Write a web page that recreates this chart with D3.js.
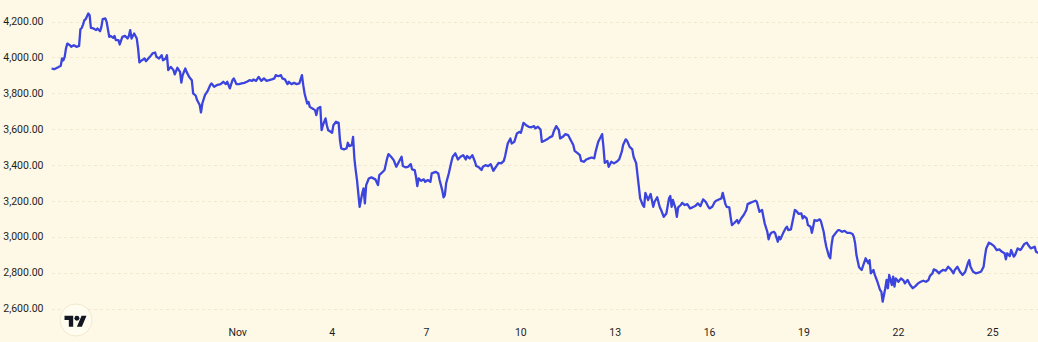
<!DOCTYPE html>
<html>
<head>
<meta charset="utf-8">
<script src="https://cdn.jsdelivr.net/npm/d3@7/dist/d3.min.js"></script>
<style>
  html, body { margin: 0; padding: 0; background: #fef8e7; }
  svg { display: block; }
  .tick-label { font-family: Roboto, "Liberation Sans", sans-serif; font-size: 10.5px; fill: #1e1e1e; }
</style>
</head>
<body>
<svg id="chart"></svg>
<script>
// price line, hours counted from Oct 26 00:00 (UTC)
const startDate = Date.UTC(2024, 9, 26);

const hours = [
  2,4,7,9,10,11,12,13,14,16,17,19,21,23,24,25,26,27,28,30,31,32,34,36,37,39,40,41,43,44,
  46,47,49,50,51,53,54,56,58,60,61,62,63,65,67,68,69,70,73,74,77,79,81,82,84,86,87,89,90,91,
  93,95,96,98,100,101,102,104,105,107,109,110,112,113,115,116,117,119,121,123,124,126,128,
  131,133,135,136,138,140,141,143,145,147,149,151,153,155,156,158,160,162,164,166,168,170,172,173,175,177,
  178,180,182,183,185,187,189,191,193,194,195,197,198,199,201,203,204,205,207,208,209,211,212,213,215,216,217,219,221,222,
  223,225,227,228,229,231,232,233,234,235,236,237,239,240,241,242,244,246,249,251,252,
  254,256,258,259,261,263,265,267,269,270,272,274,276,277,279,280,281,282,284,286,287,289,291,292,295,297,298,300,301,302,
  303,305,307,308,310,312,314,316,318,319,321,323,325,326,328,330,331,333,335,337,339,341,343,345,347,348,350,352,353,355,
  357,359,360,362,364,366,368,370,371,373,375,
  376,378,380,382,384,385,387,389,390,392,394,396,398,400,401,403,405,406,408,410,412,414,416,417,419,421,422,423,424,426,
  427,429,431,433,435,437,438,440,441,443,445,446,448,449,450,451,453,454,455,457,459,461,462,464,466,467,469,471,473,474,
  475,476,478,479,480,482,483,485,487,489,491,493,495,497,499,501,
  503,504,506,508,509,511,513,514,516,517,519,520,521,523,525,526,528,530,532,533,535,537,539,540,541,542,544,545,546,548,
  549,550,551,553,554,556,557,558,560,562,563,564,566,568,569,570,572,574,575,576,578,579,581,582,583,584,586,588,589,591,
  592,593,595,596,597,598,600,602,603,605,607,609,611,613,614,615,616,618,620,621,623,625,626,
  627,629,630,632,634,635,636,638,639,640,641,643,644,645,646,648,650,652,653,655,657,659,661,663,665,667,669,671,672,674,
  675,677,679,680,682,684,686,688,690,691,693,695,697,699,701,702,703,705,707,709,711,713,714,715,717,719,721,723,725,727,
  729,730,731,733,734,736,737,739,741,742,744,746,747,749,752,753,755
];

const prices = [
  3938,3934,3945,3953,3994,3984,4003,4050,4077,4068,4059,4068,4059,4064,4157,4164,4183,4207,4213,4245,4235,4164,4161,4152,4161,4146,4170,4213,4217,4198,
  4114,4120,4109,4120,4096,4096,4072,4114,4120,4105,4120,4152,4105,4133,4105,4050,3972,3979,3994,3979,4003,4022,4027,4003,3994,4012,3984,3994,4012,3929,
  3947,3929,3905,3942,3919,3860,3901,3938,3919,3891,3873,3799,3786,3762,3734,3693,3743,3789,3812,3845,3855,3836,3845,
  3851,3864,3851,3864,3827,3873,3883,3851,3851,3855,3858,3864,3873,3869,3877,3869,3891,3869,3883,3869,3873,3877,3883,3901,3895,3901,
  3883,3877,3851,3864,3851,3858,3851,3855,3901,3845,3799,3743,3752,3724,3715,3706,3678,3715,3724,3594,3622,3660,3622,3594,3585,3579,3622,3641,3635,3539,
  3492,3487,3492,3524,3505,3511,3557,3437,3372,3316,3242,3167,3242,3270,3186,3288,3325,3331,3320,3288,3344,
  3357,3372,3437,3461,3446,3427,3390,3418,3446,3394,3387,3390,3405,3376,3372,3334,3283,3325,3312,3320,3306,3316,3306,3353,3362,3353,3316,3260,3220,3232,
  3298,3353,3418,3446,3465,3431,3446,3455,3431,3450,3437,3455,3418,3394,3387,3372,3390,3399,3394,3405,3368,3390,3412,3409,3423,3450,3520,3548,3520,3529,
  3576,3585,3579,3635,3622,3613,3610,3617,3604,3613,3598,
  3529,3535,3543,3554,3561,3585,3617,3594,3548,3557,3572,3567,3539,3511,3479,3468,3455,3423,3418,3431,3437,3442,3437,3474,3529,3557,3572,3501,3412,3423,
  3390,3418,3409,3418,3431,3474,3511,3543,3535,3501,3487,3446,3409,3344,3279,3214,3177,3167,3245,3205,3238,3167,3195,3220,3164,3149,3111,3130,3214,3227,
  3167,3205,3158,3111,3164,3177,3189,3177,3182,3158,3164,3171,3186,3171,3208,3195,
  3167,3158,3167,3195,3201,3208,3214,3245,3182,3167,3164,3111,3065,3078,3093,3075,3102,3121,3149,3182,3189,3195,3201,3195,3167,3139,3149,3111,3075,3028,
  2986,3010,3022,3028,3019,2972,3000,2986,3019,3047,3056,3037,3041,3111,3149,3145,3127,3130,3102,3115,3102,3065,3056,3022,3056,3093,3089,3097,3084,3028,
  2982,2944,2892,2880,2954,3000,3019,3037,3037,3028,3033,3022,3022,3015,3000,2963,2898,2830,2815,2837,2880,2852,2870,
  2796,2815,2787,2749,2703,2694,2638,2713,2759,2713,2787,2731,2777,2722,2768,2749,2768,2755,2740,2759,2731,2713,2725,2740,2749,2755,2749,2759,2781,2796,
  2818,2811,2796,2805,2815,2811,2833,2818,2796,2815,2833,2805,2787,2805,2852,2870,2833,2805,2796,2800,2805,2833,2889,2935,2967,2959,2948,2926,2930,2916,
  2908,2874,2908,2892,2926,2889,2898,2935,2926,2935,2959,2967,2954,2935,2944,2916,2909
];

const yTicks = [2600, 2800, 3000, 3200, 3400, 3600, 3800, 4000, 4200];
const xTickDays = [1, 4, 7, 10, 13, 16, 19, 22, 25];
const xTickLabels = ['Nov', '4', '7', '10', '13', '16', '19', '22', '25'];

const width = 1038, height = 342;
const plot = { left: 52, right: 1038, top: 21.5, bottom: 308.5 };

const hourMs = 3600 * 1000;
const data = hours.map((h, i) => ({ date: new Date(startDate + h * hourMs), value: prices[i] }));

const svg = d3.select('#chart')
    .attr('width', width)
    .attr('height', height)
    .style('background', '#fef8e7');

const x = d3.scaleUtc()
    .domain([new Date(startDate + 2.33 * hourMs), new Date(startDate + 754.5 * hourMs)])
    .range([plot.left, plot.right]);

const y = d3.scaleLinear()
    .domain([2600, 4200])
    .range([plot.bottom, plot.top]);

// horizontal grid
svg.append('g')
    .selectAll('line')
    .data(yTicks)
    .join('line')
    .attr('x1', plot.left)
    .attr('x2', plot.right)
    .attr('y1', d => Math.round(y(d)) + 0.5)
    .attr('y2', d => Math.round(y(d)) + 0.5)
    .attr('stroke', '#f1e8cf')
    .attr('stroke-width', 1)
    .attr('stroke-dasharray', '3,3');

// y labels
const fmt = d3.format(',.2f');
svg.append('g')
    .selectAll('text')
    .data(yTicks)
    .join('text')
    .attr('class', 'tick-label')
    .attr('x', 43.5)
    .attr('y', d => y(d))
    .attr('dy', '0.35em')
    .attr('text-anchor', 'end')
    .text(d => fmt(d));

// x labels
const xTicks = xTickDays.map(d => new Date(Date.UTC(2024, 10, d)));
svg.append('g')
    .selectAll('text')
    .data(xTicks)
    .join('text')
    .attr('class', 'tick-label')
    .attr('x', d => x(d))
    .attr('y', 332)
    .attr('dy', '0.35em')
    .attr('text-anchor', 'middle')
    .text((d, i) => xTickLabels[i]);

// price line
const line = d3.line()
    .x(d => x(d.date))
    .y(d => y(d.value));

svg.append('path')
    .datum(data)
    .attr('fill', 'none')
    .attr('stroke', '#3b44dc')
    .attr('stroke-width', 2.3)
    .attr('stroke-linejoin', 'round')
    .attr('d', line);

// logo badge
const logo = svg.append('g');
logo.append('circle')
    .attr('cx', 76)
    .attr('cy', 320)
    .attr('r', 16)
    .attr('fill', '#fffcf0')
    .attr('stroke', '#f2e9cf');
const mark = logo.append('g')
    .attr('transform', 'translate(64.5,313.2) scale(0.62)')
    .attr('fill', '#131722');
mark.append('path').attr('d', 'M14 22H7V11H0V4h14v18zM28 22h-8l7.5-18h8L28 22z');
mark.append('circle').attr('cx', 20).attr('cy', 8).attr('r', 4);
</script>
</body>
</html>
